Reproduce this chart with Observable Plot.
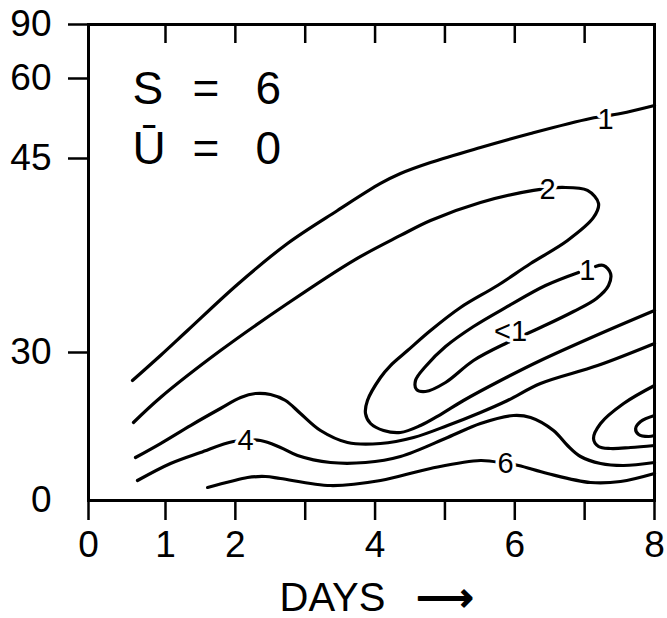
<!DOCTYPE html>
<html><head><meta charset="utf-8">
<script src="https://cdn.jsdelivr.net/npm/d3@7"></script>
<script src="https://cdn.jsdelivr.net/npm/@observablehq/plot@0.6"></script>
<style>body{margin:0;background:#fff} svg{display:block}</style>
</head><body><div id="chart"></div>
<script>
// Axis ticks
const xTicks = [0, 1, 2, 3, 4, 5, 6, 7, 8];
const xTickLabels = [0, 1, 2, 4, 6, 8];
const topTicks = [1, 2, 3, 4, 5, 6, 7];
const yTickLabels = [0, 30, 45, 60, 90];
const yTickMarks = [30, 45, 60, 90];

// Axis spacing of the original (uneven): day and latitude breakpoints, relative spacing
const dayBreaks = [0, 1, 8];
const dayStretch = [0, 77, 566];
const latBreaks = [0, 30, 45, 60, 90];
const latStretch = [0, 148, 342, 422, 476];

// Contours as [day, latitude]
const contour1 = [[0.571,24.32],[0.935,29.39],[1.315,31.70],[2.030,35.26],[2.746,38.43],[3.462,40.98],[4.078,43.07],[4.364,43.84],[4.794,44.69],[5.509,47.06],[6.226,49.69],[7.084,52.5],[7.514,53.44],[8,54.94]];
const contour2 = [[0.584,15.81],[0.935,20.88],[1.787,30.15],[2.746,33.79],[3.691,37.11],[4.364,39.05],[4.794,40.21],[5.509,41.60],[6.268,42.53],[6.683,42.76],[7.041,42.53],[7.199,41.52],[7.127,40.44],[6.755,38.66],[6.226,36.88],[5.753,35.18],[5.223,33.48],[4.794,31.70],[4.465,30.15],[4.221,27.36],[4.078,24.93],[3.891,20.27],[3.863,17.64],[3.935,15.61],[4.121,14.19],[4.364,13.78],[4.650,15.20],[4.937,17.43],[5.266,20.27],[5.796,24.32],[6.368,28.38],[7.228,31.47],[8,33.25]];
const contourInner1 = [[6.912,36.19],[6.440,35.18],[5.896,33.56],[5.409,32.01],[5.009,30.46],[4.722,27.16],[4.579,24.32],[4.594,22.50],[4.722,22.09],[5.009,23.92],[5.409,28.38],[5.896,30.77],[6.368,31.93],[6.841,33.17],[7.170,34.18],[7.342,35.18],[7.371,36.11],[7.271,36.73],[7.156,36.65]];
const contour3 = [[0.610,8.72],[0.935,11.55],[1.358,15.20],[1.787,18.65],[2.076,20.88],[2.288,21.69],[2.503,21.49],[2.718,20.27],[2.932,17.64],[3.219,14.19],[3.605,11.76],[4.078,11.55],[4.551,12.77],[5.038,15.20],[5.509,17.84],[5.896,20.27],[6.368,23.72],[7.185,27.36],[8,30.70]];
const contour4 = [[0.636,4.05],[1.072,7.50],[1.501,9.73],[1.973,11.96],[2.360,12.16],[2.646,10.74],[2.890,9.12],[3.362,7.70],[3.863,7.70],[4.364,8.92],[5.038,12.77],[5.509,15.61],[5.982,17.23],[6.226,16.82],[6.554,14.19],[6.755,11.15],[6.941,8.92],[7.228,7.50],[7.558,7.09],[8,7.70]];
const contour6 = [[1.603,2.64],[1.930,3.85],[2.174,4.66],[2.431,4.86],[2.646,4.46],[3.362,3.04],[4.078,4.05],[4.794,6.49],[5.509,8.11],[5.867,7.50],[6.054,7.09],[6.469,5.47],[7.084,3.65],[7.514,3.85],[8,5.47]];
const contour5outer = [[8,23.31],[7.558,19.66],[7.228,15.61],[7.127,12.57],[7.199,10.95],[7.371,10.54],[7.658,10.74],[8,11.15]];
const contour5inner = [[8,17.23],[7.802,16.01],[7.730,14.59],[7.773,13.38],[7.916,12.97],[8,13.18]];

// Contour labels
const labelText = ["1", "2", "1", "<1", "4", "6"];
const labelDay  = [7.30, 6.47, 7.04, 5.94, 2.145, 5.867];
const labelLat  = [52.2, 42.6, 36.34, 31.6, 12.16, 7.5];

const lines = [["a", contour1], ["b", contour2], ["c", contourInner1], ["d", contour3],
  ["e", contour4], ["f", contour6], ["g", contour5outer], ["h", contour5inner]]
  .flatMap(([id, pts]) => pts.map(([day, lat]) => ({id, day, lat})));
const labels = labelText.map((t, i) => ({t, day: labelDay[i], lat: labelLat[i]}));

const dayT = d3.scaleLinear().domain(dayBreaks).range(dayStretch);
const latT = d3.scaleLinear().domain(latBreaks).range(latStretch);

const font = "'Liberation Sans', Arial, Helvetica, sans-serif";
const ann = (t, dx, dy) => Plot.text([t], {text: d => d, frameAnchor: "top-left", textAnchor: "start", lineAnchor: "bottom", dx, dy, fontSize: 46, fill: "black"});

const chart = Plot.plot({
  width: 667, height: 618,
  marginLeft: 88, marginRight: 13, marginTop: 24, marginBottom: 118,
  style: {fontFamily: font, fontSize: "37px", color: "black", background: "white"},
  x: {type: "linear", transform: d => dayT(d), domain: [0, dayStretch[2]], range: [88, 654], axis: null},
  y: {type: "linear", transform: d => latT(d), domain: [0, latStretch[4]], range: [500, 24], axis: null},
  marks: [
    Plot.line(lines, {x: "day", y: "lat", z: "id", curve: "catmull-rom", stroke: "black", strokeWidth: 3.2, strokeLinecap: "round"}),
    Plot.text(labels, {x: "day", y: "lat", text: "t", fontSize: 29, fill: "black", stroke: "white", strokeWidth: 7}),
    Plot.frame({stroke: "black", strokeWidth: 3}),
    // top inward ticks
    Plot.ruleX(topTicks, {x: d => d, stroke: "black", strokeWidth: 2.5, insetBottom: 457}),
    // bottom outward ticks and labels
    Plot.ruleX(xTicks, {x: d => d, stroke: "black", strokeWidth: 2.5, insetTop: 476, insetBottom: -20}),
    Plot.text(xTickLabels, {x: d => d, text: d => String(d), frameAnchor: "bottom", lineAnchor: "top", dy: 30, fontSize: 37, fill: "black"}),
    // left outward ticks and labels
    Plot.ruleY(yTickMarks, {y: d => d, stroke: "black", strokeWidth: 2.5, insetLeft: -20, insetRight: 566}),
    Plot.text(yTickLabels, {y: d => d, text: d => String(d), frameAnchor: "left", textAnchor: "end", dx: -37, fontSize: 37, fill: "black"}),
    ann("S", 44, 79), ann("=", 104, 79), ann("6", 167, 79),
    ann("\u016A", 44, 139), ann("=", 104, 139), ann("0", 167, 139),
    Plot.text(["DAYS"], {text: d => d, frameAnchor: "bottom-left", textAnchor: "start", lineAnchor: "bottom", dx: 191, dy: 110, fontSize: 40, fill: "black"}),
    Plot.text(["\u27F6"], {text: d => d, frameAnchor: "bottom-left", textAnchor: "start", lineAnchor: "bottom", dx: 328, dy: 110, fontSize: 40, fill: "black", stroke: "black", strokeWidth: 1.5, fontFamily: "'DejaVu Sans', sans-serif"})
  ]
});
document.getElementById("chart").appendChild(chart);
</script>
</body></html>
